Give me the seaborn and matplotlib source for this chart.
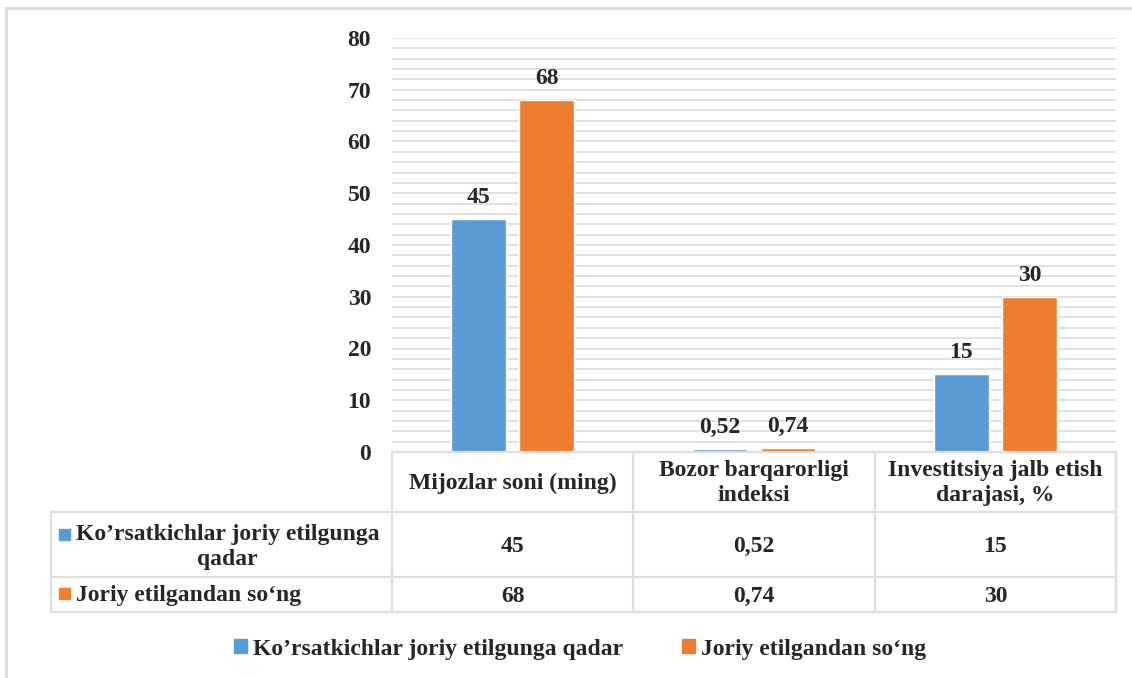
import pandas as pd
import matplotlib.pyplot as plt
import seaborn as sns
from matplotlib.patches import Patch, Rectangle
from matplotlib.lines import Line2D
from matplotlib.transforms import blended_transform_factory

# Ma'lumotlar
categories = ['Mijozlar soni (ming)', 'Bozor barqarorligi\nindeksi',
              'Investitsiya jalb etish\ndarajasi, %']
series = ['Ko’rsatkichlar joriy etilgunga qadar', 'Joriy etilgandan so‘ng']
row_labels = ['Ko’rsatkichlar joriy etilgunga\nqadar', 'Joriy etilgandan so‘ng']
before = [45, 0.52, 15]
after = [68, 0.74, 30]
colors = ['#5B9BD5', '#ED7D31']
yticks = [0, 10, 20, 30, 40, 50, 60, 70, 80]


def fmt(v):
    return f'{v:g}'.replace('.', ',')


df = pd.DataFrame({
    'Kategoriya': categories * 2,
    'Qiymat': before + after,
    'Seriya': [series[0]] * 3 + [series[1]] * 3,
})

W, H = 1132, 678
FS = 17
GRID = '#DEDEDE'

sns.set_style('white')
plt.rcParams['font.family'] = ['Liberation Serif', 'DejaVu Serif']
plt.rcParams['font.weight'] = 'bold'


def fx(px):
    return px / W


def fy(py):
    return 1 - py / H


fig = plt.figure(figsize=(W / 100, H / 100), dpi=100)
ax = fig.add_axes([fx(392), fy(452), fx(1116) - fx(392), fy(38) - fy(452)])

sns.barplot(data=df, x='Kategoriya', y='Qiymat', hue='Seriya', palette=colors,
            width=0.565, gap=0.2, saturation=1, errorbar=None, legend=False, ax=ax)

ax.set_xlim(-0.5, 2.5)
ax.set_ylim(0, 80)
ax.set_yticks(yticks)
ax.set_yticks(range(0, 81, 2), minor=True)
ax.yaxis.grid(True, which='both', color=GRID, lw=1.3)
ax.set_axisbelow(True)
ax.tick_params(axis='y', which='both', length=0, labelsize=FS, pad=15)
ax.tick_params(axis='x', length=0, labelbottom=False)
for lab in ax.get_yticklabels():
    lab.set_fontweight('bold')
ax.set_xlabel('')
ax.set_ylabel('')
sns.despine(ax=ax, left=True, bottom=True)

for cont, vals in zip(ax.containers, [before, after]):
    ax.bar_label(cont, labels=[fmt(v) for v in vals], padding=8,
                 fontsize=FS, fontweight='bold')

# Jadval (data table)
tr = blended_transform_factory(ax.transData, fig.transFigure)
lkw = dict(color=GRID, lw=1.6, clip_on=False)

fig.add_artist(Line2D([-0.5, 2.5], [fy(452)] * 2, transform=tr, **lkw))
for yy in [512, 577, 612]:
    fig.add_artist(Line2D([fx(51), fx(1116)], [fy(yy)] * 2, transform=fig.transFigure, **lkw))
fig.add_artist(Line2D([fx(51)] * 2, [fy(512), fy(612)], transform=fig.transFigure, **lkw))
for xx in [-0.5, 0.5, 1.5, 2.5]:
    fig.add_artist(Line2D([xx, xx], [fy(452), fy(612)], transform=tr, **lkw))

for i, cat in enumerate(categories):
    fig.text(i, fy(483), cat, transform=tr, ha='center', va='center',
             fontsize=FS, fontweight='bold', linespacing=1.3)
    fig.text(i, fy(546), fmt(before[i]), transform=tr, ha='center', va='center',
             fontsize=FS, fontweight='bold')
    fig.text(i, fy(596), fmt(after[i]), transform=tr, ha='center', va='center',
             fontsize=FS, fontweight='bold')

# qator nomlari va rang belgilari
fig.add_artist(Rectangle((fx(59), fy(540)), fx(11), fy(529) - fy(540),
                         color=colors[0], transform=fig.transFigure))
fig.text(fx(76), fy(547), row_labels[0], ha='left', va='center',
         fontsize=FS, fontweight='bold', linespacing=1.25, multialignment='center')
fig.add_artist(Rectangle((fx(59), fy(599)), fx(11), fy(588) - fy(599),
                         color=colors[1], transform=fig.transFigure))
fig.text(fx(76), fy(596), row_labels[1], ha='left', va='center',
         fontsize=FS, fontweight='bold')

# Legenda
handles = [Patch(color=c, label=s) for c, s in zip(colors, series)]
fig.legend(handles=handles, loc='center', bbox_to_anchor=(fx(580), fy(649)),
           ncol=2, frameon=False, handlelength=0.55, handleheight=0.55,
           handletextpad=0.25, columnspacing=2.5, prop={'weight': 'bold', 'size': FS})

# Tashqi ramka
fig.add_artist(Line2D([fx(6), fx(1132)], [fy(8)] * 2, transform=fig.transFigure,
                      color='#D9D9D9', lw=2))
fig.add_artist(Line2D([fx(6)] * 2, [fy(8), 0], transform=fig.transFigure,
                      color='#D9D9D9', lw=2))

fig.savefig('out.png', dpi=100)
